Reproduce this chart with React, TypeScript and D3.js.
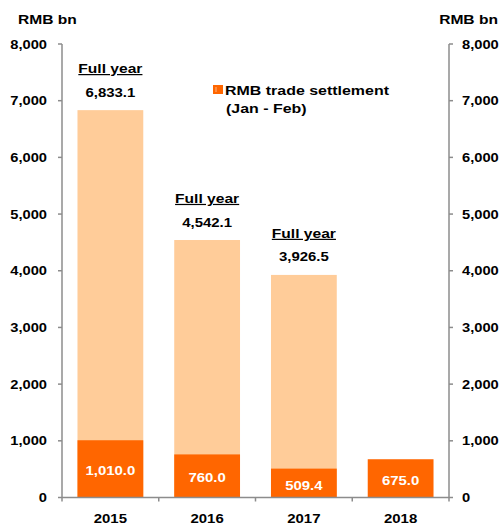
import React from "react";
import * as d3 from "d3";

const years = ["2015", "2016", "2017", "2018"];
const fullYear: (number | null)[] = [6833.1, 4542.1, 3926.5, null];
const janFeb = [1010.0, 760.0, 509.4, 675.0];
const yTicks = [0, 1000, 2000, 3000, 4000, 5000, 6000, 7000, 8000];
const unitLabel = "RMB bn";
const legendLines = ["RMB trade settlement", "(Jan - Feb)"];
const fullYearLabel = "Full year";

const W = 502;
const H = 526;
const LIGHT = "#FFCC99";
const DARK = "#FF6600";
const AXIS = "#8C8C8C";
const FONT = "Liberation Sans, Arial, sans-serif";

function T({ x, y, sx = 1.15, size = 13, anchor = "start", fill = "#000", children, underline = false }: any) {
  return (
    <text
      transform={`translate(${x},${y}) scale(${sx},1)`}
      fontSize={size}
      fontWeight="bold"
      fontFamily={FONT}
      textAnchor={anchor}
      fill={fill}
      textDecoration={underline ? "underline" : undefined}
    >
      {children}
    </text>
  );
}

export default function App() {
  const left = 62;
  const right = 449;
  const x = d3.scaleBand<string>().domain(years).range([left, right]).paddingInner(0.32).paddingOuter(0.16);
  const y = d3.scaleLinear().domain([0, 8000]).range([497.5, 44]);
  const fmtTick = d3.format(",");
  const fmtVal = d3.format(",.1f");
  const step = x.step();

  return (
    <svg width={W} height={H} style={{ position: "absolute", left: 0, top: 0 }}>
      <rect width={W} height={H} fill="#fff" />
      {/* bars */}
      {years.map((yr, i) => {
        const bx = x(yr)!;
        const bw = x.bandwidth();
        const fy = fullYear[i];
        return (
          <g key={yr}>
            {fy != null && (
              <rect x={bx} y={y(fy)} width={bw} height={y(0) - y(fy)} fill={LIGHT} />
            )}
            <rect x={bx} y={y(janFeb[i])} width={bw} height={y(0) - y(janFeb[i])} fill={DARK} />
            <T x={bx + bw / 2} y={(y(janFeb[i]) + y(0)) / 2 + 6.5} anchor="middle" fill="#fff" size={13}>
              {fmtVal(janFeb[i])}
            </T>
            {fy != null && (
              <g>
                <T x={bx + bw / 2} y={y(fy) - 37} anchor="middle" size={12} sx={1.3} underline>
                  {fullYearLabel}
                </T>
                <T x={bx + bw / 2} y={y(fy) - 13.5} anchor="middle" size={13} sx={1.15}>
                  {fmtVal(fy)}
                </T>
              </g>
            )}
          </g>
        );
      })}
      {/* left axis */}
      <line x1={left} x2={left} y1={y(8000)} y2={y(0)} stroke={AXIS} strokeWidth={1.5} />
      {yTicks.map((t) => (
        <g key={"l" + t}>
          <line x1={left - 4} x2={left} y1={y(t)} y2={y(t)} stroke={AXIS} strokeWidth={1.5} />
          <T x={47} y={y(t) + 4.6} anchor="end" size={13} sx={1.13}>
            {fmtTick(t)}
          </T>
        </g>
      ))}
      {/* right axis */}
      <line x1={right} x2={right} y1={y(8000)} y2={y(0)} stroke={AXIS} strokeWidth={1.5} />
      {yTicks.map((t) => (
        <g key={"r" + t}>
          <line x1={right} x2={right + 4} y1={y(t)} y2={y(t)} stroke={AXIS} strokeWidth={1.5} />
          <T x={462} y={y(t) + 4.6} anchor="start" size={13} sx={1.13}>
            {fmtTick(t)}
          </T>
        </g>
      ))}
      {/* x axis */}
      <line x1={left} x2={right} y1={y(0)} y2={y(0)} stroke={AXIS} strokeWidth={1.5} />
      {d3.range(years.length + 1).map((k) => (
        <line key={"xt" + k} x1={left + k * step} x2={left + k * step} y1={y(0)} y2={y(0) + 4} stroke={AXIS} strokeWidth={1.5} />
      ))}
      {years.map((yr) => (
        <T key={"xl" + yr} x={x(yr)! + x.bandwidth() / 2} y={523} anchor="middle" size={13} sx={1.15}>
          {yr}
        </T>
      ))}
      {/* unit labels */}
      <T x={18} y={24} size={13} sx={1.2}>{unitLabel}</T>
      <T x={498} y={24} size={13} sx={1.2} anchor="end">{unitLabel}</T>
      {/* legend */}
      <rect x={213} y={85} width={10} height={9} fill={DARK} />
      <line x1={216} x2={216} y1={87} y2={92} stroke="#FFB380" strokeWidth={1} />
      <T x={225} y={94.5} size={12} sx={1.33}>{legendLines[0]}</T>
      <T x={226} y={112.5} size={12} sx={1.33}>{legendLines[1]}</T>
    </svg>
  );
}
